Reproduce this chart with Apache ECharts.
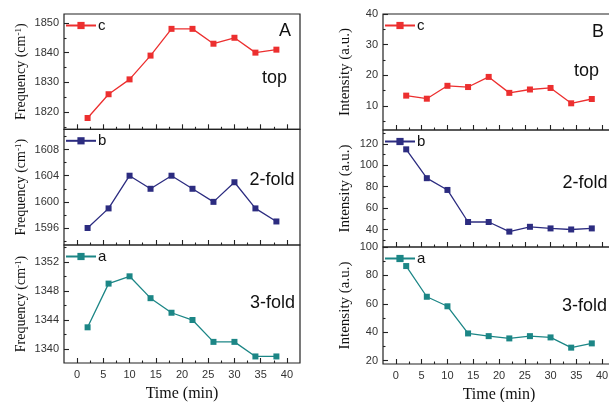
<!DOCTYPE html>
<html><head><meta charset="utf-8">
<script src="https://cdn.jsdelivr.net/npm/echarts@6/dist/echarts.min.js"></script>
<style>html,body{margin:0;padding:0;background:#fff}#c{width:609px;height:402px}</style>
</head><body><div id="c"></div>
<script>
// ---- data ----
const time = [2, 6, 10, 14, 18, 22, 26, 30, 34, 38];
const freqTop = [1818, 1826, 1831, 1839, 1848, 1848, 1843, 1845, 1840, 1841];
const freq2fold = [1596, 1599, 1604, 1602, 1604, 1602, 1600, 1603, 1599, 1597];
const freq3fold = [1343, 1349, 1350, 1347, 1345, 1344, 1341, 1341, 1339, 1339];
const intTop = [13.4, 12.4, 16.6, 16.2, 19.5, 14.3, 15.4, 15.9, 10.9, 12.3];
const int2fold = [115, 88, 77, 47, 47, 38, 42.5, 41, 40, 41];
const int3fold = [86.6, 65, 58.3, 39.2, 37.3, 35.7, 37.3, 36.4, 29.2, 32.2];

const xTickLabels = [0, 5, 10, 15, 20, 25, 30, 35, 40];
const xMinorTicks = [2.5, 7.5, 12.5, 17.5, 22.5, 27.5, 32.5, 37.5];
const freqTopTicks = [1820, 1830, 1840, 1850];
const freqTopMinor = [1815, 1825, 1835, 1845];
const freq2Ticks = [1596, 1600, 1604, 1608];
const freq2Minor = [1594, 1598, 1602, 1606, 1610];
const freq3Ticks = [1340, 1344, 1348, 1352];
const freq3Minor = [1342, 1346, 1350, 1354];
const intTopTicks = [10, 20, 30, 40];
const intTopMinor = [5, 15, 25, 35];
const int2Ticks = [40, 60, 80, 100, 120];
const int2Minor = [30, 50, 70, 90, 110, 130];
const int3Ticks = [20, 40, 60, 80, 100];
const int3Minor = [30, 50, 70, 90];

const seriesNames = ['c', 'b', 'a', 'c', 'b', 'a'];
const panelTexts = ['top', '2-fold', '3-fold', 'top', '2-fold', '3-fold'];

// ---- layout / style ----
const RED = '#ec2f2f', NAVY = '#2c2c80', TEAL = '#1c8686';
const panels = [
  {data: freqTop, ticks: freqTopTicks, minor: freqTopMinor, min: 1814.2, max: 1853, color: RED,
   grid: {left: 64, top: 14, width: 236, height: 115.3}, xLabels: false, yName: 'F'},
  {data: freq2fold, ticks: freq2Ticks, minor: freq2Minor, min: 1593.4, max: 1611.1, color: NAVY,
   grid: {left: 64, top: 129.3, width: 236, height: 115.7}, xLabels: false, yName: 'F'},
  {data: freq3fold, ticks: freq3Ticks, minor: freq3Minor, min: 1338.1, max: 1354.3, color: TEAL,
   grid: {left: 64, top: 245, width: 236, height: 118}, xLabels: true, yName: 'F'},
  {data: intTop, ticks: intTopTicks, minor: intTopMinor, min: 2.2, max: 40, color: RED,
   grid: {left: 383, top: 14, width: 232, height: 116}, xLabels: false, yName: 'I'},
  {data: int2fold, ticks: int2Ticks, minor: int2Minor, min: 23.6, max: 133.1, color: NAVY,
   grid: {left: 383, top: 130, width: 232, height: 117}, xLabels: false, yName: 'I'},
  {data: int3fold, ticks: int3Ticks, minor: int3Minor, min: 17.7, max: 100, color: TEAL,
   grid: {left: 383, top: 247, width: 232, height: 117}, xLabels: true, yName: 'I'}
];
const XMIN = -2.5, XMAX = 42.5;
const AX = '#222';
const SANS = 'Liberation Sans, Arial, sans-serif';
const SERIF = 'Liberation Serif, Times New Roman, serif';
const plain = v => String(v);
const noLine = {show: false, onZero: false};

const grids = [], xAxes = [], yAxes = [], series = [], legends = [], graphics = [];
panels.forEach((p, i) => {
  grids.push(Object.assign({show: true, borderColor: AX, borderWidth: 1.2, backgroundColor: 'transparent',
    containLabel: false, outerBoundsMode: 'none'}, p.grid));
  const yName = p.yName === 'F'
    ? {name: 'Frequency (cm{s|-1})', nameGap: 35, nameTextStyle: {fontFamily: SERIF, fontSize: 14, color: '#111', rich: {s: {fontSize: 9, verticalAlign: 'top', padding: [0, 0, 6, 0], fontFamily: SERIF, color: '#111'}}}}
    : {name: 'Intensity (a.u.)', nameGap: 30, nameTextStyle: {fontFamily: SERIF, fontSize: 15, color: '#111'}};
  xAxes.push({
    type: 'value', gridIndex: i, min: XMIN, max: XMAX, position: 'bottom',
    axisLine: noLine, splitLine: {show: false},
    axisTick: {show: true, inside: true, length: 5, customValues: xTickLabels, lineStyle: {color: AX, width: 1.1}},
    axisLabel: {show: p.xLabels, customValues: xTickLabels, formatter: plain, margin: 6, fontSize: 11, color: '#333', fontFamily: SANS},
    name: p.xLabels ? 'Time (min)' : '', nameLocation: 'middle', nameGap: 23,
    nameTextStyle: {fontFamily: SERIF, fontSize: 16, color: '#111'}
  });
  yAxes.push(Object.assign({
    type: 'value', gridIndex: i, min: p.min, max: p.max, position: 'left',
    axisLine: noLine, splitLine: {show: false},
    axisTick: {show: true, inside: true, length: 5, customValues: p.ticks, lineStyle: {color: AX, width: 1.1}},
    axisLabel: {show: true, customValues: p.ticks, formatter: plain, margin: 5, fontSize: 11, color: '#333', fontFamily: SANS},
    nameLocation: 'middle', nameRotate: 90
  }, yName));
  series.push({
    type: 'line', name: seriesNames[i], xAxisIndex: i, yAxisIndex: i,
    data: time.map((t, k) => [t, p.data[k]]),
    symbol: 'rect', symbolSize: 6, showSymbol: true,
    lineStyle: {color: p.color, width: 1.3}, itemStyle: {color: p.color},
    emphasis: {disabled: true}, animation: false
  });
  legends.push({
    data: [seriesNames[i]], left: p.grid.left + 1, top: p.grid.top + 4,
    padding: 0, itemWidth: 30, itemHeight: 9, itemGap: 3, selectedMode: false,
    textStyle: {fontFamily: SANS, fontSize: 15, color: '#111', padding: [0, 0, 2, -3]}
  });
});
// minor ticks via extra axes
panels.forEach((p, i) => {
  xAxes.push({
    type: 'value', gridIndex: i, min: XMIN, max: XMAX, position: 'bottom',
    axisLine: noLine, splitLine: {show: false}, axisLabel: {show: false},
    axisTick: {show: true, inside: true, length: 2.5, customValues: xMinorTicks, lineStyle: {color: AX, width: 1.1}}
  });
  yAxes.push({
    type: 'value', gridIndex: i, min: p.min, max: p.max, position: 'left',
    axisLine: noLine, splitLine: {show: false}, axisLabel: {show: false},
    axisTick: {show: true, inside: true, length: 2.5, customValues: p.minor, lineStyle: {color: AX, width: 1.1}}
  });
});

const txt = (text, x, y, align) => ({
  type: 'text', x: x, y: y, silent: true,
  style: {text: text, fill: '#111', font: '18px ' + SANS, textAlign: align || 'center', textVerticalAlign: 'middle'}
});
graphics.push(txt('A', 285, 31));
graphics.push(txt('B', 598, 32));
graphics.push(txt(panelTexts[0], 274.5, 78));
graphics.push(txt(panelTexts[1], 272, 180));
graphics.push(txt(panelTexts[2], 272.5, 303));
graphics.push(txt(panelTexts[3], 586.5, 71));
graphics.push(txt(panelTexts[4], 562.5, 183, 'left'));
graphics.push(txt(panelTexts[5], 562, 306.5, 'left'));

const chart = echarts.init(document.getElementById('c'), null, {renderer: 'canvas'});
chart.setOption({
  animation: false,
  backgroundColor: '#fff',
  grid: grids, xAxis: xAxes, yAxis: yAxes, series: series, legend: legends, graphic: graphics
});
</script></body></html>
